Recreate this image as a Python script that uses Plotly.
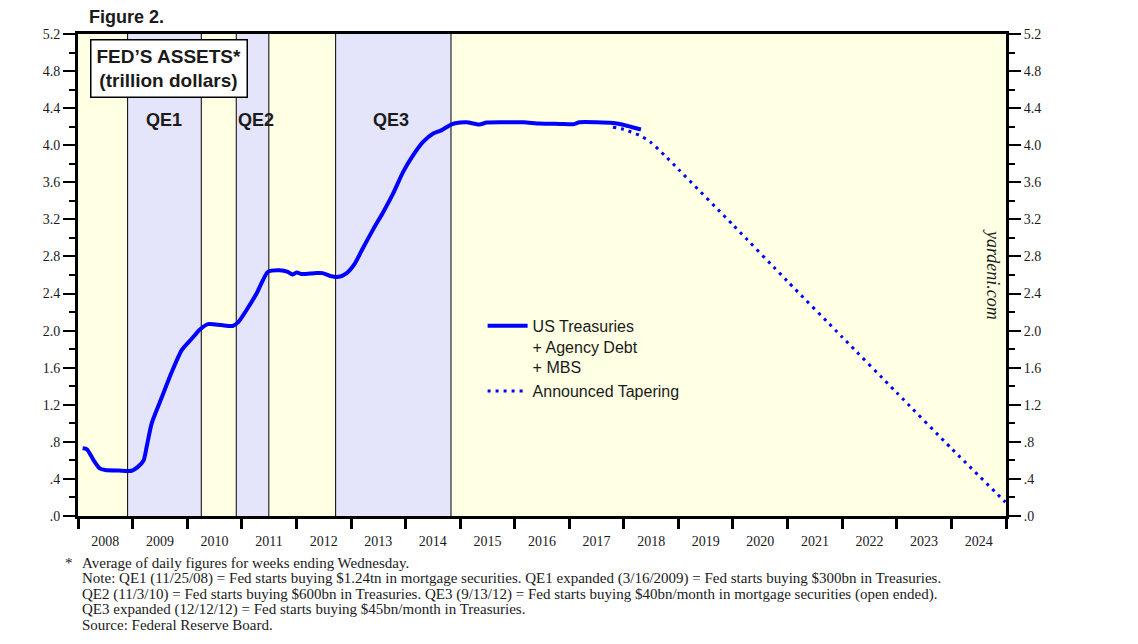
import plotly.graph_objects as go

# ---------------- data ----------------
assets_dates = [
    "2008-02-01", "2008-03-01", "2008-04-15", "2008-05-25", "2008-07-01", "2008-10-01",
    "2008-12-25", "2009-02-05", "2009-03-15", "2009-04-05", "2009-05-08", "2009-07-12",
    "2009-09-20", "2009-11-25", "2010-02-01", "2010-03-25", "2010-05-20", "2010-08-15",
    "2010-11-01", "2010-12-10", "2011-02-01", "2011-04-10", "2011-06-25", "2011-09-10",
    "2011-11-05", "2011-12-05", "2012-01-05", "2012-02-05", "2012-05-05", "2012-06-25",
    "2012-08-15", "2012-10-10", "2012-12-01", "2013-01-25", "2013-03-25", "2013-06-01",
    "2013-08-05", "2013-10-10", "2013-12-15", "2014-02-20", "2014-04-28", "2014-07-05",
    "2014-08-28", "2014-11-05", "2015-01-01", "2015-02-15", "2015-05-10", "2015-06-28",
    "2015-11-05", "2016-03-01", "2016-06-15", "2016-10-30", "2017-01-25", "2017-03-10",
    "2017-07-01", "2017-10-20", "2017-12-20", "2018-02-20", "2018-04-25",
]
assets_values = [
    0.73, 0.72, 0.60, 0.514, 0.496, 0.49,
    0.488, 0.53, 0.60, 0.75, 1.00, 1.27,
    1.556, 1.79, 1.915, 2.01, 2.07, 2.06,
    2.05, 2.095, 2.22, 2.40, 2.634, 2.65,
    2.634, 2.606, 2.627, 2.61, 2.62, 2.62,
    2.59, 2.58, 2.617, 2.72, 2.90, 3.10,
    3.28, 3.48, 3.71, 3.89, 4.035, 4.126,
    4.16, 4.226, 4.245, 4.248, 4.223, 4.245,
    4.248, 4.248, 4.234, 4.23, 4.226, 4.248,
    4.248, 4.24, 4.223, 4.197, 4.17,
]

taper_dates = [
    "2017-10-20", "2018-01-01", "2018-04-15", "2018-07-01", "2018-10-01",
    "2019-01-01", "2020-01-01", "2021-01-01", "2022-01-01", "2023-01-01",
    "2024-01-01", "2024-12-28",
]
taper_values = [
    4.195, 4.17, 4.108, 4.03, 3.89,
    3.74, 3.14, 2.53, 1.93, 1.33,
    0.73, 0.15,
]

qe_names = ["QE1", "QE2", "QE3"]
qe_starts = ["2008-11-28", "2010-11-25", "2012-09-20"]
qe_ends = ["2010-04-05", "2011-07-01", "2014-11-01"]
qe_label_x = ["2009-07-28", "2011-04-03", "2013-09-28"]
qe_label_y = 4.27

y_tickvals = [0, 0.4, 0.8, 1.2, 1.6, 2.0, 2.4, 2.8, 3.2, 3.6, 4.0, 4.4, 4.8, 5.2]
y_ticktext = [".0", ".4", ".8", "1.2", "1.6", "2.0", "2.4", "2.8", "3.2", "3.6",
              "4.0", "4.4", "4.8", "5.2"]

footnote_lines = [
    "Average of daily figures for weeks ending Wednesday.",
    "Note: QE1 (11/25/08) = Fed starts buying $1.24tn in mortgage securities. QE1 expanded (3/16/2009) = Fed starts buying $300bn in Treasuries.",
    "QE2 (11/3/10) = Fed starts buying $600bn in Treasuries. QE3 (9/13/12) = Fed starts buying $40bn/month in mortgage securities (open ended).",
    "QE3 expanded (12/12/12) = Fed starts buying $45bn/month in Treasuries.",
    "Source: Federal Reserve Board.",
]

# ---------------- styling ----------------
BLUE = "#0000FF"
YELLOW = "#FFFFE3"
LAVENDER = "#E4E4FA"
SERIF = "Liberation Serif"
SANS = "Liberation Sans"
TXT = "#1a1a1a"

fig = go.Figure()

fig.add_trace(go.Scatter(
    x=assets_dates, y=assets_values, mode="lines",
    line=dict(color=BLUE, width=4, shape="spline", smoothing=0.6),
    name="US Treasuries<br>+ Agency Debt<br>+ MBS",
))
fig.add_trace(go.Scatter(
    x=taper_dates, y=taper_values, mode="lines",
    line=dict(color=BLUE, width=3, dash="3px,5px", shape="spline", smoothing=0.6),
    name="Announced Tapering", yaxis="y2",
))

# QE shading + boundary lines
for s, e in zip(qe_starts, qe_ends):
    fig.add_shape(type="rect", xref="x", yref="paper", x0=s, x1=e, y0=0, y1=1,
                  fillcolor=LAVENDER, line=dict(width=0), layer="below")
    for xv in (s, e):
        fig.add_shape(type="line", xref="x", yref="paper", x0=xv, x1=xv, y0=0, y1=1,
                      line=dict(color="black", width=1), layer="below")

for name, xv in zip(qe_names, qe_label_x):
    fig.add_annotation(x=xv, y=qe_label_y, xref="x", yref="y", text="<b>" + name + "</b>",
                       showarrow=False, font=dict(family=SANS, size=18, color=TXT),
                       xanchor="center", yanchor="middle")

# Title box
fig.add_annotation(x=0.0125, y=0.99, xref="paper", yref="paper",
                   text="<b>FED’S ASSETS*</b><br><b>(trillion dollars)</b>",
                   showarrow=False, xanchor="left", yanchor="top", align="center",
                   font=dict(family=SANS, size=19, color=TXT),
                   bgcolor="white", bordercolor="black", borderwidth=1.5, borderpad=5)

# Figure label
fig.add_annotation(x=0.01, y=1.036, xref="paper", yref="paper", text="<b>Figure 2.</b>",
                   showarrow=False, xanchor="left", yanchor="middle",
                   font=dict(family=SANS, size=18, color=TXT))

# yardeni.com
fig.add_annotation(x=0.986, y=0.502, xref="paper", yref="paper", text="<i>yardeni.com</i>",
                   showarrow=False, textangle=90, xanchor="center", yanchor="middle",
                   font=dict(family=SERIF, size=18, color=TXT))

# footnotes (one annotation per line for tight leading)
fig.add_annotation(x=-0.016, y=-0.0975, xref="paper", yref="paper", text="*",
                   showarrow=False, xanchor="left", yanchor="middle",
                   font=dict(family=SERIF, size=15, color=TXT))
for i, line in enumerate(footnote_lines):
    fig.add_annotation(x=0.002, y=-0.0975 - i * 0.0322, xref="paper", yref="paper",
                       text=line, align="left", showarrow=False,
                       xanchor="left", yanchor="middle",
                       font=dict(family=SERIF, size=15, color=TXT))

yax = dict(
    range=[0, 5.2], tickmode="array", tickvals=y_tickvals, ticktext=y_ticktext,
    ticks="outside", ticklen=12, tickwidth=1.5, tickcolor="black",
    showline=True, linewidth=3, linecolor="black", showgrid=False, zeroline=False,
    tickfont=dict(family=SERIF, size=14, color=TXT),
    minor=dict(ticks="outside", dtick=0.2, tick0=0, ticklen=6, tickwidth=1.5,
               tickcolor="black", showgrid=False),
)

fig.update_layout(
    width=1130, height=636,
    margin=dict(l=70, r=132, t=26, b=128),
    paper_bgcolor="white", plot_bgcolor=YELLOW,
    showlegend=True,
    legend=dict(x=0.436, y=0.43, xanchor="left", yanchor="top",
                bgcolor="rgba(0,0,0,0)", font=dict(family=SANS, size=16, color=TXT),
                valign="top", itemwidth=40, tracegroupgap=0),
    xaxis=dict(
        type="date", range=["2008-01-01", "2025-01-01"],
        tick0="2008-01-01", dtick="M12", tickformat="%Y", ticklabelmode="period",
        ticks="outside", ticklen=10, tickwidth=3, tickcolor="black",
        showline=True, linewidth=3, linecolor="black", mirror=True,
        showgrid=False, zeroline=False,
        tickfont=dict(family=SERIF, size=14, color=TXT),
    ),
    yaxis=yax,
    yaxis2=dict(yax, overlaying="y", side="right"),
)

fig.write_html("out.html")
